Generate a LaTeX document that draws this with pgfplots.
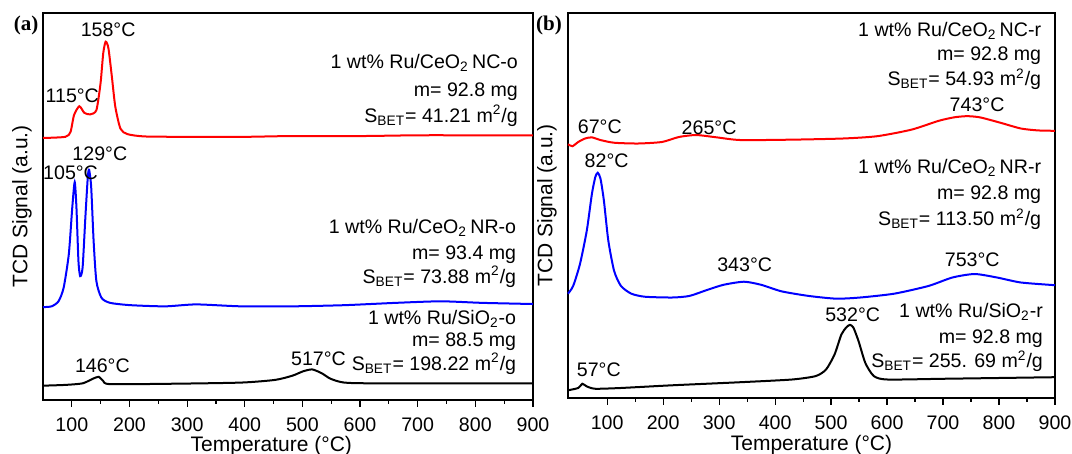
\documentclass[border=0pt]{standalone}
\usepackage{fontspec}
\setmainfont{Liberation Sans}
\newfontfamily\tnr{Liberation Serif}
\usepackage{pgfplots}
\pgfplotsset{compat=1.18}

\newcommand\fs{\fontsize{9.8}{11.6}\selectfont}
\newcommand\fl{\fontsize{10.5}{12.6}\selectfont}

\pgfplotsset{
  tpr/.style={
    scale only axis, ymin=0, ymax=100, xmax=900,
    xtick={100,200,...,900}, minor x tick num=1,
    xtick pos=bottom, tick align=outside, ytick=\empty,
    major tick length=3.5pt, minor tick length=2pt,
    every tick/.style={black, line width=0.6pt},
    axis line style={line width=0.6pt},
    ticklabel style={font=\fs},
    xticklabel style={yshift=-1.8pt},
    /pgf/number format/assume math mode=true,
    label style={font=\fl},
    xlabel={Temperature (°C)}, ylabel={TCD Signal (a.u.)},
    ylabel style={at={(axis description cs:-0.043,0.5)}, anchor=center},
    clip=false,
  },
  curve/.style={line width=1pt, smooth, tension=0.4},
}
\tikzset{
  pk/.style={font=\fs, anchor=base, yshift=-3.5pt},
  tx/.style={font=\fs, anchor=base east, yshift=-3.5pt},
}

\begin{document}
\begin{tikzpicture}

% ---------------- panel (a): oxidised samples
\begin{axis}[tpr, at={(21.5pt,27pt)}, anchor=south west,
  width=245pt, height=193.5pt, xmin=50,
  xlabel style={at={(axis description cs:0.466,-0.118)}, anchor=center}]

\addplot[curve, red] coordinates {
(50,67.7)(88.8,68)(97.8,69.3)(103.8,73.6)(113,75.9)(121.7,74.2)(131.8,73.8)
(142.6,74.9)(149.8,81.8)(154.5,89.6)(158.7,92.6)(163.5,90.9)(169.5,83.5)
(175.4,75.8)(184.4,70.1)(196.4,68.7)(226,68.1)(300,68.0)(400,68.0)(480,68.2)
(600,68.2)(700,68.4)(800,68.4)(900,68.4)};

\addplot[curve, blue] coordinates {
(50,24.0)(65,24.2)(76.9,25.5)(85.8,29)(94.8,37.7)(100.8,49.8)(105,56.3)
(108,49.8)(111.5,35.9)(114.5,32)(118.7,34.2)(123.5,47.2)(127.7,57.6)(130,59.5)
(133.6,55)(137.8,41.1)(142.6,30.7)(151.5,26.4)(166.5,25.1)(202,24.5)(262,24.2)
(315.8,24.7)(393.5,24.2)(483,24.2)(572.6,24.5)(662,25.1)(740,25.5)(811.6,25.1)
(900,24.8)};

\addplot[curve, black] coordinates {
(50,3.7)(88.8,3.9)(118.7,4.3)(136.6,5.5)(146.8,6.0)(154.5,4.9)(166.5,4.1)
(274,4.2)(393.5,4.5)(453,5.2)(483,6.3)(501,7.4)(517,7.9)(533.7,6.9)(548.7,5.5)
(572.6,4.5)(632,4.3)(900,4.3)};

\node[pk] at (axis cs:163,95.7) {158°C};
\node[pk] at (axis cs:100.8,78.8) {115°C};
\node[pk] at (axis cs:148.6,63.8) {129°C};
\node[pk] at (axis cs:97.8,58.9) {105°C};
\node[pk] at (axis cs:153,8.9) {146°C};
\node[pk] at (axis cs:528,10.6) {517°C};

\node[tx] at (axis cs:886,87.4) {1 wt\% Ru/CeO\textsubscript{2}\,NC-o};
\node[tx] at (axis cs:886,80.3) {m= 92.8 mg};
\node[tx] at (axis cs:886,73.6) {S\textsubscript{BET}= 41.21 m\textsuperscript{2}/g};
\node[tx] at (axis cs:883,44.8) {1 wt\% Ru/CeO\textsubscript{2}\,NR-o};
\node[tx] at (axis cs:883,38.1) {m= 93.4 mg};
\node[tx] at (axis cs:883,32.0) {S\textsubscript{BET}= 73.88 m\textsuperscript{2}/g};
\node[tx] at (axis cs:883,21.4) {1 wt\% Ru/SiO\textsubscript{2}-o};
\node[tx] at (axis cs:883,15.6) {m= 88.5 mg};
\node[tx] at (axis cs:883,9.5) {S\textsubscript{BET}= 198.22 m\textsuperscript{2}/g};
\end{axis}

% ---------------- panel (b): reduced samples
\begin{axis}[tpr, at={(284pt,28pt)}, anchor=south west,
  width=243.5pt, height=192.5pt, xmin=30,
  xlabel style={at={(axis description cs:0.5,-0.122)}, anchor=center}]

\addplot[curve, red] coordinates {
(30,65.9)(37.9,65.4)(48.3,66.5)(60.5,67.4)(72.7,67.7)(88,67)(112.4,66.3)
(155,66.1)(197.9,66.5)(228.4,67.8)(259,68.3)(295.6,67.7)(338.3,67)(430,67.1)
(521.5,67.4)(582.5,68)(643.6,69.7)(692.4,72)(719.9,72.9)(742.5,73.2)
(765.7,72.9)(802.3,71.5)(838.9,70)(869.5,69.5)(900,69.4)};

\addplot[curve, blue] coordinates {
(30,27.1)(39.2,29.1)(51.4,34.8)(63.6,43.5)(72.7,53)(78.8,57.4)(83.1,58.5)
(88,57)(94.1,51.3)(102,40.9)(112.4,33)(124.6,29.1)(143,27.1)(167.4,26.3)
(216.2,26.1)(246.7,26.5)(277.3,28)(307.8,29.4)(344.4,30.2)(375,29.4)
(411.6,27.7)(460.4,26.5)(509.2,25.8)(552,26.1)(613,27.1)(674,29.1)
(716.8,31.3)(756.5,32.2)(796.2,31.3)(839,30)(900,29.3)};

\addplot[curve, black] coordinates {
(30,2.0)(48.3,2.6)(55.6,3.7)(63.6,3.0)(78.8,2.4)(124.6,2.6)(216.2,3.3)
(338.3,4.1)(430,4.8)(472.6,5.7)(491,7.4)(506.2,11.3)(518.4,16.5)(527.6,18.4)
(533.7,19)(539.8,18.3)(549,14.8)(561.2,9.1)(576.4,5.7)(600.8,4.8)(704.6,5.0)
(900,5.4)};

\node[pk] at (axis cs:86.8,70.6) {67°C};
\node[pk] at (axis cs:282,70.2) {265°C};
\node[pk] at (axis cs:760.8,76.3) {743°C};
\node[pk] at (axis cs:99,61.7) {82°C};
\node[pk] at (axis cs:345.6,34.6) {343°C};
\node[pk] at (axis cs:752.2,36) {753°C};
\node[pk] at (axis cs:85,7.4) {57°C};
\node[pk] at (axis cs:538.6,21.7) {532°C};

\node[tx] at (axis cs:887.8,95.8) {1 wt\% Ru/CeO\textsubscript{2}\,NC-r};
\node[tx] at (axis cs:887.8,89.6) {m= 92.8 mg};
\node[tx] at (axis cs:887.8,83.0) {S\textsubscript{BET}= 54.93 m\textsuperscript{2}/g};
\node[tx] at (axis cs:887.8,60.0) {1 wt\% Ru/CeO\textsubscript{2}\,NR-r};
\node[tx] at (axis cs:887.8,53.5) {m= 92.8 mg};
\node[tx] at (axis cs:887.8,46.5) {S\textsubscript{BET}= 113.50 m\textsuperscript{2}/g};
\node[tx] at (axis cs:891,22.6) {1 wt\% Ru/SiO\textsubscript{2}-r};
\node[tx] at (axis cs:891,16.1) {m= 92.8 mg};
\node[tx] at (axis cs:891,9.7) {S\textsubscript{BET}= 255. 69 m\textsuperscript{2}/g};
\end{axis}

\node[font=\tnr\bfseries\fontsize{10.5}{12}\selectfont] at (13pt,214.5pt) {(a)};
\node[font=\tnr\bfseries\fontsize{10.5}{12}\selectfont] at (274.5pt,214.5pt) {(b)};

\pgfresetboundingbox
\path[use as bounding box] (0,0) rectangle (536pt,227pt);
\end{tikzpicture}
\end{document}
